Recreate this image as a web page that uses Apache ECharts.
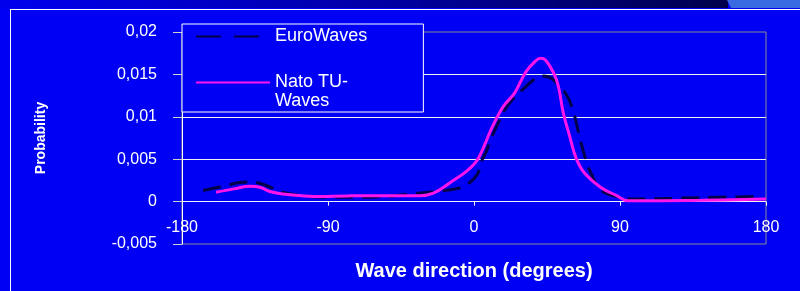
<!DOCTYPE html>
<html>
<head>
	<meta charset="utf-8">
	<title>Wave direction</title>
	<script src="https://cdn.jsdelivr.net/npm/echarts@6.0.0/dist/echarts.min.js"></script>
	<style>
		html, body { margin: 0; padding: 0; background: #0000f4; }
		#main { width: 800px; height: 291px; }
	</style>
</head>
<body>
<div id="main"></div>
<script type="text/javascript">
	// values
	var euroDeg  = [-167, -155, -140, -134, -128, -118, -105, -90, -70, -55, -44, -23, -9, -3, 2, 5, 8, 10, 14, 21, 30, 37, 41, 46, 51, 57, 61, 65, 69, 72, 78, 88, 98, 140, 174];
	var euroProb = [0.0013, 0.0018, 0.0023, 0.00225, 0.0019, 0.0011, 0.0007, 0.0005, 0.0005, 0.0006, 0.0008, 0.0012, 0.0016, 0.0022, 0.0032, 0.0049, 0.0061, 0.0072, 0.0089, 0.0114, 0.0132, 0.0144, 0.0148, 0.0147, 0.0140, 0.0126, 0.0108, 0.0077, 0.0049, 0.0034, 0.0014, 0.0006, 0.0003, 0.00047, 0.0006];

	var natoDeg  = [-159, -148, -138, -132, -126, -113, -99, -78, -60, -33, -25, -15, -4.5, 2, 7, 11, 18, 25, 32, 38, 41, 44, 49, 52, 55, 59, 63, 68, 78, 88, 95, 110, 140, 180];
	var natoProb = [0.0011, 0.0015, 0.0018, 0.0017, 0.0012, 0.0008, 0.0006, 0.00067, 0.0007, 0.0007, 0.0010, 0.0022, 0.0036, 0.0049, 0.0069, 0.0087, 0.0112, 0.0128, 0.0153, 0.0166, 0.0169, 0.0167, 0.0152, 0.0136, 0.0105, 0.0077, 0.0051, 0.0034, 0.0017, 0.0007, 0.0001, 0.0001, 0.00015, 0.0003];

	var seriesNames = ['EuroWaves', 'Nato TU-Waves'];
	var xTicks = { min: -180, max: 180, step: 90 };
	var yTicks = { min: -0.005, max: 0.02, step: 0.005 };

	function pairs(xs, ys) {
		var out = [];
		for (var i = 0; i < xs.length; i++) {
			out.push([xs[i], ys[i]]);
		}
		return out;
	}

	var font = '"Liberation Sans", Arial, sans-serif';
	var bg = '#0000f4';

	var myChart = echarts.init(document.getElementById('main'), null, { renderer: 'canvas' });

	var option = {
		animation: false,
		backgroundColor: bg,
		textStyle: { fontFamily: font },
		graphic: [
			// slide header strip
			{
				type: 'rect', z: 10, silent: true,
				shape: { x: 0, y: 0, width: 728, height: 8 },
				style: {
					fill: new echarts.graphic.LinearGradient(0, 0, 1, 0, [
						{ offset: 0, color: '#0000ee' },
						{ offset: 0.5, color: '#0000a8' },
						{ offset: 1, color: '#00004a' }
					])
				}
			},
			{
				type: 'polygon', z: 10, silent: true,
				shape: { points: [[727, 0], [800, 0], [800, 8], [731, 8]] },
				style: { fill: '#3a6ae2' }
			},
			{
				type: 'line', z: 10, silent: true,
				shape: { x1: 10, y1: 9.5, x2: 800, y2: 9.5 },
				style: { stroke: '#ffffff', lineWidth: 1 }
			},
			{
				type: 'line', z: 10, silent: true,
				shape: { x1: 10.5, y1: 9, x2: 10.5, y2: 291 },
				style: { stroke: '#ffffff', lineWidth: 1 }
			}
		],
		grid: {
			left: 182,
			right: 34,
			top: 32,
			bottom: 47,
			containLabel: false,
			outerBoundsMode: 'none',
			show: true,
			borderColor: '#8c8c8c',
			borderWidth: 1
		},
		legend: {
			orient: 'vertical',
			left: 182,
			top: 24,
			padding: [3, 56, 1, 13],
			itemGap: 8,
			itemWidth: 74,
			itemHeight: 14,
			backgroundColor: bg,
			borderColor: '#ffffff',
			borderWidth: 1,
			borderRadius: 0,
			selectedMode: false,
			itemStyle: { opacity: 0 },
			textStyle: { color: '#ffffff', fontSize: 18, lineHeight: 19, fontFamily: font },
			formatter: function (name) {
				return name === 'Nato TU-Waves' ? '\nNato TU-\nWaves' : name;
			},
			data: [
				{ name: seriesNames[0], lineStyle: { type: [25, 13] } },
				{ name: seriesNames[1], lineStyle: { width: 2 } }
			]
		},
		xAxis: {
			type: 'value',
			min: xTicks.min,
			max: xTicks.max,
			interval: xTicks.step,
			axisLine: { show: false, onZero: true },
			axisTick: { show: true, length: 4, lineStyle: { color: '#ffffff' } },
			axisLabel: { color: '#ffffff', fontSize: 16, margin: -24, fontFamily: font },
			splitLine: { show: false },
			name: 'Wave direction (degrees)',
			nameLocation: 'middle',
			nameGap: 17,
			nameMoveOverlap: false,
			nameTextStyle: { color: '#ffffff', fontSize: 20, fontWeight: 'bold', fontFamily: font }
		},
		yAxis: {
			type: 'value',
			min: yTicks.min,
			max: yTicks.max,
			interval: yTicks.step,
			axisLine: { show: true, onZero: false, lineStyle: { color: '#ffffff', width: 1 } },
			axisTick: { show: true, length: 9, lineStyle: { color: '#d0d0d0' } },
			axisLabel: {
				color: '#ffffff',
				fontSize: 16,
				margin: 25,
				fontFamily: font,
				formatter: function (v) {
					return String(+v.toFixed(4)).replace('.', ',');
				}
			},
			splitLine: {
				show: true,
				showMinLine: false,
				showMaxLine: false,
				lineStyle: { color: '#f0f0f0', width: 1 }
			},
			name: 'Probability',
			nameLocation: 'middle',
			nameRotate: 90,
			nameGap: 134,
			nameMoveOverlap: false,
			nameTextStyle: { color: '#ffffff', fontSize: 14, fontWeight: 'bold', fontFamily: font }
		},
		series: [
			{
				name: seriesNames[0],
				type: 'line',
				smooth: 0.4,
				symbol: 'none',
				data: pairs(euroDeg, euroProb),
				itemStyle: { color: '#00004a' },
				lineStyle: { color: '#00004a', width: 3, type: [18, 9] }
			},
			{
				name: seriesNames[1],
				type: 'line',
				smooth: 0.4,
				symbol: 'none',
				data: pairs(natoDeg, natoProb),
				itemStyle: { color: '#ff14ec' },
				lineStyle: { color: '#ff14ec', width: 3 }
			}
		]
	};
	myChart.setOption(option);
</script>
</body>
</html>
